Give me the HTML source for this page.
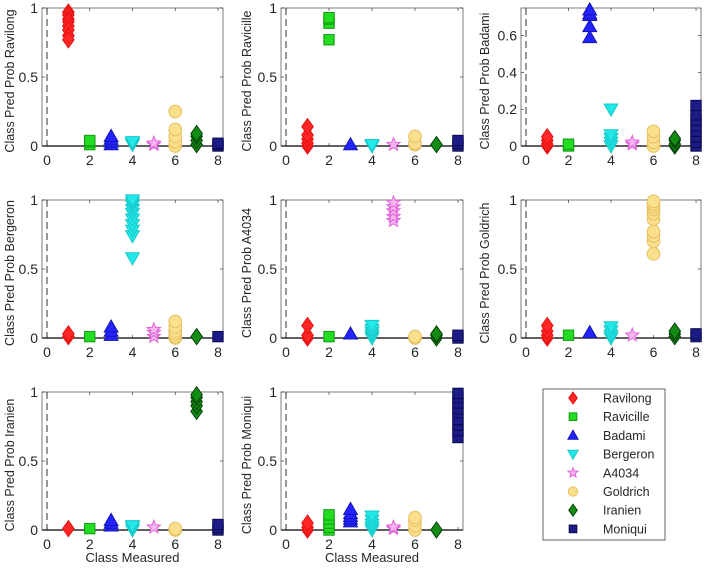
<!DOCTYPE html>
<html><head><meta charset="utf-8">
<style>
html,body{margin:0;padding:0;background:#fff;}
svg text{font-family:"Liberation Sans",Arial,sans-serif;fill:#262626;}
</style></head>
<body>
<svg id="fig" width="705" height="570" viewBox="0 0 705 570" xmlns="http://www.w3.org/2000/svg"></svg>
<script>
const classNames = ["Ravilong","Ravicille","Badami","Bergeron","A4034","Goldrich","Iranien","Moniqui"];
const xTicks = [0,2,4,6,8];
const yTicksDefault = [0,0.5,1];
const yTicksBadami = [0,0.2,0.4,0.6];
const yMaxes = [1,1,0.75,1,1,1,1,1];
const probRavilong = [[0.97,0.95,0.92,0.9,0.87,0.84,0.8,0.77],[0.01,0.03,0.04],[0.01,0.03,0.05,0.07],[0.01,0.02,0.03],[0.01,0.02],[0,0.03,0.07,0.12,0.25],[0.01,0.04,0.07,0.09],[0,0.01,0.02]];
const probRavicille = [[0,0.02,0.05,0.08,0.14],[0.77,0.89,0.92,0.93],[0.01],[0,0.01],[0.01],[0.01,0.02,0.07],[0.01],[0,0.02,0.04]];
const probBadami = [[0,0.01,0.03,0.05],[0,0.01],[0.59,0.65,0.71,0.72,0.74],[0,0.02,0.04,0.06,0.2],[0.01,0.02],[0,0.02,0.05,0.08],[0,0.01,0.03,0.04],[0,0.02,0.05,0.08,0.11,0.14,0.17,0.22]];
const probBergeron = [[0.01,0.03],[0.01],[0.02,0.05,0.08],[0.58,0.74,0.78,0.82,0.86,0.9,0.93,0.96,0.98,1.0],[0.01,0.04,0.06],[0,0.01,0.03,0.05,0.08,0.12],[0.01],[0.01]];
const probA4034 = [[0,0.02,0.09],[0.01],[0.03],[0,0.02,0.04,0.06,0.09],[0.85,0.88,0.92,0.95,0.98],[0,0.01],[0,0.02,0.03],[0,0.02]];
const probGoldrich = [[0,0.02,0.05,0.09],[0.02],[0.04],[0,0.02,0.05,0.08],[0.02],[0.61,0.7,0.74,0.77,0.86,0.9,0.93,0.95,0.97,0.99],[0.01,0.03,0.05],[0.01,0.03]];
const probIranien = [[0.01],[0.01],[0.03,0.05,0.07],[0,0.02,0.03],[0.02],[0,0.01],[0.86,0.9,0.93,0.96,0.98],[0,0.02,0.04]];
const probMoniqui = [[0,0.02,0.05],[0,0.02,0.05,0.08,0.11],[0.06,0.08,0.1,0.12,0.15],[0,0.02,0.04,0.07,0.1],[0.01,0.02],[0,0.03,0.07,0.09],[0],[0.67,0.72,0.76,0.8,0.85,0.88,0.92,0.96,0.99]];
const panelData = [probRavilong,probRavicille,probBadami,probBergeron,probA4034,probGoldrich,probIranien,probMoniqui];

const NS="http://www.w3.org/2000/svg";
const svg=document.getElementById('fig');
function mk(tag,attrs,parent){const e=document.createElementNS(NS,tag);for(const k in attrs)e.setAttribute(k,attrs[k]);(parent||svg).appendChild(e);return e;}
const styles=[
 {shape:'diamond',fill:'#ff2626',stroke:'#e01010'},
 {shape:'square',fill:'#22dd22',stroke:'#119911'},
 {shape:'tri',fill:'#2323ff',stroke:'#1414b0'},
 {shape:'vtri',fill:'#22e8e8',stroke:'#18c8c8'},
 {shape:'star',fill:'#f6b6f0',stroke:'#e060d8'},
 {shape:'circle',fill:'#fadf8c',stroke:'#e6c060'},
 {shape:'diamond',fill:'#128c12',stroke:'#064006'},
 {shape:'square',fill:'#1c1c86',stroke:'#0a0a50'}];
function marker(g,s,cx,cy,scale){
  scale=scale||1;let e;
  const a={fill:s.fill,stroke:s.stroke,'stroke-width':1};
  if(s.shape==='diamond'){const w=5*scale,h=7*scale;a.points=`${cx},${cy-h} ${cx+w},${cy} ${cx},${cy+h} ${cx-w},${cy}`;e=mk('polygon',a,g);}
  else if(s.shape==='square'){const h=4.5*scale;Object.assign(a,{x:cx-h,y:cy-h,width:2*h,height:2*h});e=mk('rect',a,g);}
  else if(s.shape==='tri'){const h=6*scale;a.points=`${cx},${cy-h} ${cx+h},${cy+h*0.75} ${cx-h},${cy+h*0.75}`;e=mk('polygon',a,g);}
  else if(s.shape==='vtri'){const h=6*scale;a.points=`${cx},${cy+h} ${cx+h},${cy-h*0.75} ${cx-h},${cy-h*0.75}`;e=mk('polygon',a,g);}
  else if(s.shape==='circle'){Object.assign(a,{cx:cx,cy:cy,r:5.5*scale});e=mk('circle',a,g);}
  else {let p=[];for(let i=0;i<10;i++){const r=(i%2?2.6:6)*scale,t=-Math.PI/2+i*Math.PI/5;p.push((cx+r*Math.cos(t)).toFixed(1)+','+(cy+r*Math.sin(t)).toFixed(1));}a.points=p.join(' ');e=mk('polygon',a,g);}
  return e;
}
const colL=[42,281,521], colR=[223,463,701];
const rowT=[8,200,392], rowB=[146,338,530];
const ylabX=[10,247,485];
const xmin=-0.234, xmax=8.234;
panelData.forEach((data,p)=>{
  const c=p%3,r=Math.floor(p/3);
  const L=colL[c],R=colR[c],T=rowT[r],B=rowB[r],ymax=yMaxes[p];
  const xs=v=>L+(v-xmin)/(xmax-xmin)*(R-L);
  const ys=v=>B-(v/ymax)*(B-T);
  const g=mk('g',{});
  
  
  const box=mk('rect',{x:L,y:T,width:R-L,height:B-T,fill:'none',stroke:'#262626','stroke-width':0.6},g);
  
  
  const zl=mk('line',{x1:xs(0),x2:xs(0),y1:T,y2:B,stroke:'#333','stroke-width':1,'stroke-dasharray':'7,4'},g);
  
  
  mk('line',{x1:L,x2:R,y1:B,y2:B,stroke:'#000','stroke-width':1.2},g);
  xTicks.forEach(t=>{
    mk('line',{x1:xs(t),x2:xs(t),y1:B,y2:B-3,stroke:'#262626','stroke-width':0.6},g);
    mk('line',{x1:xs(t),x2:xs(t),y1:T,y2:T+3,stroke:'#262626','stroke-width':0.6},g);
    const tx=mk('text',{x:xs(t),y:B+19,'font-size':14,'text-anchor':'middle'},g);tx.textContent=t;
    
    
  });
  const yt=(p===2)?yTicksBadami:yTicksDefault;
  yt.forEach(t=>{
    mk('line',{x1:L,x2:L+3,y1:ys(t),y2:ys(t),stroke:'#262626','stroke-width':0.6},g);
    mk('line',{x1:R,x2:R-3,y1:ys(t),y2:ys(t),stroke:'#262626','stroke-width':0.6},g);
    const tx=mk('text',{x:L-4,y:ys(t)+5,'font-size':14,'text-anchor':'end'},g);tx.textContent=t;
    
    
  });
  const yl=mk('text',{x:ylabX[c],y:(T+B)/2,'font-size':12.5,'text-anchor':'middle',transform:`rotate(-90 ${ylabX[c]+4} ${(T+B)/2})`},g);
  yl.textContent='Class Pred Prob '+classNames[p];
  
  
  data.forEach((vals,k)=>{
    vals.forEach(v=>{
      const m=marker(g,styles[k],xs(k+1),ys(v),1.15);
      
      
    });
  });
  if(r===2){
    const xl=mk('text',{x:(L+R)/2,y:562,'font-size':13,'text-anchor':'middle'},g);
    xl.textContent='Class Measured';
    
    
  }
});
const lg=mk('g',{});


mk('rect',{x:543,y:389,width:122,height:151,fill:'#fff',stroke:'#262626','stroke-width':0.7},lg);
classNames.forEach((n,k)=>{
  const y=398+k*18.7;
  const m=marker(lg,styles[k],573,y,0.85);
  
  
  const t=mk('text',{x:603,y:y+4.5,'font-size':12.5},lg);t.textContent=n;
  
  
});
</script>
</body></html>
